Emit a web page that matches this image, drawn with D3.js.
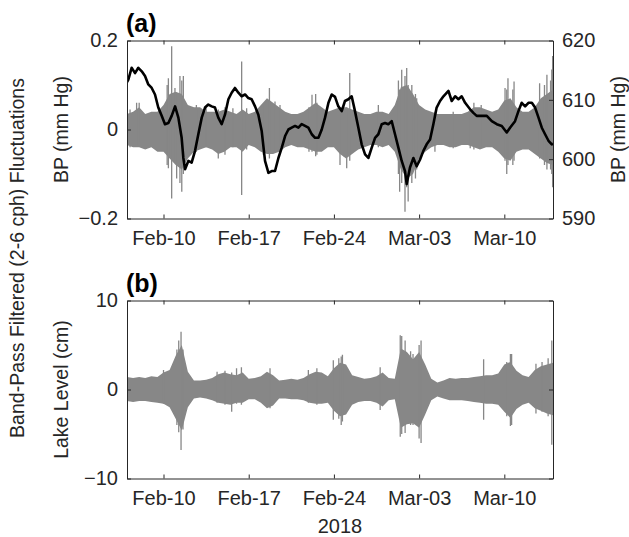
<!DOCTYPE html>
<html>
<head>
<meta charset="utf-8">
<script src="https://cdn.jsdelivr.net/npm/d3@7"></script>
<style>
  html, body { margin: 0; padding: 0; background: #fff; }
  svg { display: block; font-family: "Liberation Sans", Arial, Helvetica, sans-serif; }
</style>
</head>
<body>
<svg id="chart" width="629" height="537"></svg>
<script>
// ---- time axis ----
const startDate = Date.UTC(2018, 1, 7);           // Feb 7, 2018 (day 0)
const endDay = 35;                                 // Mar 14, 2018
const tickDates = ["2018-02-10", "2018-02-17", "2018-02-24", "2018-03-03", "2018-03-10"];

// ---- barometric pressure (mm Hg), days since Feb 7 ----
const bpDay = [0.0,0.11,0.38,0.66,0.93,1.21,1.48,1.75,2.03,2.30,2.57,2.85,3.12,3.40,3.67,3.95,4.22,4.49,4.63,4.77,
  5.04,5.31,5.59,5.86,6.14,6.41,6.68,6.96,7.23,7.50,7.78,8.05,8.33,8.60,8.87,9.15,9.42,9.70,9.97,10.24,
  10.52,10.79,11.07,11.34,11.62,11.89,12.16,12.44,12.71,12.99,13.26,13.53,13.81,14.08,14.35,14.63,14.90,15.18,15.45,15.73,
  16.00,16.27,16.55,16.82,17.09,17.36,17.64,17.91,18.19,18.46,18.73,19.01,19.28,19.56,19.83,20.10,20.38,20.65,20.93,21.20,
  21.47,21.75,22.02,22.30,22.57,22.84,22.98,23.25,23.53,23.80,24.07,24.35,24.62,24.90,25.17,25.44,25.72,26.00,26.41,26.68,
  26.96,27.23,27.50,27.78,28.19,28.46,28.73,29.14,29.56,29.97,30.38,30.79,31.20,31.47,31.88,32.16,32.43,32.71,32.98,33.26,
  33.53,33.81,34.08,34.35,34.63,34.90,35.0];
const bpValue = [613.0,613.4,615.4,614.5,615.4,614.8,614.0,612.6,612.0,610.9,608.7,607.3,605.9,606.1,607.3,608.9,607.0,603.6,600.2,598.3,
  599.7,599.4,601.4,604.2,607.0,608.7,609.2,608.9,608.7,607.0,605.9,607.5,610.1,611.2,612.0,611.2,610.6,610.9,610.3,610.1,
  608.9,607.5,604.7,599.7,597.7,598.0,598.0,600.2,601.9,603.9,605.0,605.3,605.6,605.3,605.9,605.6,605.3,604.2,603.6,603.6,
  605.0,607.0,609.5,610.9,610.5,608.9,608.1,609.8,610.1,610.6,608.1,605.3,602.5,600.8,600.2,601.9,603.6,604.2,605.9,606.1,
  605.9,606.4,604.2,601.9,599.7,598.0,595.8,598.6,600.2,598.8,599.9,601.4,602.5,603.3,605.9,608.7,609.8,610.6,611.5,609.8,
  610.6,610.1,610.6,609.5,608.4,607.8,607.3,607.3,607.3,606.4,605.9,605.6,604.5,605.3,606.4,608.1,609.5,608.9,609.5,609.5,
  608.7,607.0,605.3,604.2,603.1,602.5,602.6];

// ---- band-pass filtered fluctuations: envelope every half day ----
const envDay = d3.range(0, 35.01, 0.5);
const bpfHigh = [.035,.04,.05,.035,.04,.04,.055,.08,.085,.08,.055,.05,.05,.04,.04,.04,.045,.04,.035,.045,
  .035,.04,.055,.07,.06,.05,.04,.035,.035,.04,.05,.06,.05,.04,.045,.05,.05,.045,.04,.035,
  .035,.04,.04,.035,.055,.095,.1,.08,.055,.045,.04,.035,.035,.035,.035,.035,.04,.05,.05,.045,
  .04,.045,.065,.07,.05,.04,.04,.05,.07,.08,.09];
const bpfLow = [-.035,-.04,-.04,-.045,-.04,-.05,-.05,-.065,-.08,-.09,-.065,-.05,-.045,-.04,-.045,-.055,-.05,-.04,-.04,-.05,
  -.035,-.04,-.05,-.055,-.055,-.05,-.04,-.035,-.04,-.04,-.045,-.05,-.05,-.04,-.04,-.055,-.065,-.055,-.045,-.04,
  -.035,-.035,-.04,-.035,-.05,-.09,-.11,-.1,-.065,-.05,-.04,-.035,-.035,-.04,-.04,-.035,-.035,-.04,-.045,-.04,
  -.04,-.05,-.065,-.07,-.05,-.045,-.045,-.055,-.065,-.075,-.08];
const lakeHigh = [1.4,1.3,1.4,1.3,1.5,1.4,1.9,2.2,3.8,5.0,2.0,1.0,1.0,1.1,1.3,1.7,1.9,1.7,1.6,1.9,
  1.2,1.3,1.5,2.0,1.6,1.0,1.1,1.2,1.1,1.3,1.7,2.0,1.9,1.5,2.4,3.0,2.8,1.6,1.4,1.2,
  1.3,1.5,1.9,1.3,1.2,4.6,4.2,3.4,4.2,2.8,1.2,0.8,1.0,1.3,1.2,1.3,1.3,1.4,1.5,1.6,
  1.6,1.8,2.8,3.1,2.1,1.6,1.4,2.2,2.6,2.8,3.0];
const lakeLow = [-1.3,-1.4,-1.3,-1.3,-1.4,-1.5,-1.6,-2.0,-3.3,-4.6,-2.0,-1.0,-0.9,-1.0,-1.2,-1.5,-1.6,-1.7,-1.5,-1.5,
  -1.1,-1.1,-1.5,-2.1,-1.8,-1.0,-1.0,-1.1,-1.1,-1.2,-1.5,-1.6,-1.6,-1.5,-2.4,-3.0,-2.8,-1.7,-1.4,-1.3,
  -1.3,-1.5,-1.9,-1.2,-1.1,-4.3,-3.9,-3.8,-4.3,-2.8,-1.2,-0.8,-1.0,-1.2,-1.2,-1.2,-1.3,-1.4,-1.5,-1.6,
  -1.6,-1.7,-2.5,-3.2,-2.2,-1.7,-1.5,-2.1,-2.4,-2.7,-2.9];

// ---- individual large excursions: [day, high, low] ----
const bpfSpikes = [[0.25,.045,-.04],[0.79,.06,-.035],[1.0,.06,-.03],[3.3,.1,-.08],[3.4,.115,-.087],[3.67,.187,-.155],
  [3.94,.093,-.07],[4.08,.08,-.11],[4.35,.12,-.12],[4.5,.11,-.14],[4.63,.12,-.1],[5.7,.055,-.05],[6.5,.05,-.04],
  [7.5,.045,-.065],[8.05,.05,-.057],[8.7,.048,-.04],[9.42,.153,-.147],[9.83,.048,-.045],[11.2,.055,-.057],
  [11.7,.093,-.065],[12.16,.063,-.05],[12.57,.055,-.055],[14.95,.05,-.05],[15.2,.078,-.05],[15.5,.08,-.06],
  [15.6,.06,-.057],[17.5,.05,-.08],[17.8,.055,-.06],[18.05,.05,-.087],[18.3,.127,-.07],[20.65,.055,-.04],
  [22.3,.11,-.1],[22.4,.09,-.14],[22.57,.134,-.12],[22.84,.12,-.185],[22.98,.138,-.13],[23.1,.1,-.162],
  [23.4,.1,-.12],[23.7,.08,-.11],[23.8,.07,-.09],[25.3,.04,-.05],[26.8,.04,-.042],[28.2,.045,-.042],
  [28.5,.06,-.045],[29.1,.055,-.04],[31.06,.093,-.07],[31.2,.09,-.1],[31.3,.115,-.08],[31.7,.09,-.08],
  [31.8,.108,-.07],[33.9,.104,-.065],[34.3,.1,-.08],[34.5,.123,-.09],[34.8,.11,-.09],[34.9,.135,-.1],[34.97,.165,-.13]];
const lakeSpikes = [[3.0,2.2,-1.6],[4.1,4.5,-4.0],[4.25,5.5,-4.8],[4.44,6.5,-6.8],[4.6,4.5,-4.5],[7.4,2.0,-1.5],
  [8.05,2.1,-1.7],[8.6,1.9,-2.5],[9.0,2.4,-1.6],[9.4,2.5,-1.7],[11.75,2.4,-2.1],[14.9,2.2,-1.5],[15.6,2.4,-1.7],
  [16.95,3.3,-3.4],[17.4,3.5,-3.3],[17.6,3.7,-4.0],[17.7,3.9,-3.6],[20.8,2.5,-2.3],[22.45,6.1,-5.3],[22.57,6.0,-5.0],
  [22.85,5.5,-4.9],[23.3,4.3,-4.0],[23.5,4.0,-4.0],[24.0,5.0,-5.5],[24.16,5.5,-6.0],[29.3,3.4,-3.4],[31.2,3.1,-3.0],
  [31.5,4.0,-4.1],[31.6,4.0,-4.0],[33.6,2.9,-2.7],[34.1,3.1,-2.5],[34.6,3.5,-3.0],[34.9,5.5,-6.2]];

// ---- axis ticks ----
const bpfTicks = [-0.2, 0, 0.2];
const bpTicks = [590, 600, 610, 620];
const lakeTicks = [-10, 0, 10];

// ---------------------------------------------------------------
const svg = d3.select("#chart");
const left = 127, right = 553;
const panelA = { top: 40.5, bottom: 218.5 };
const panelB = { top: 300.5, bottom: 478.5 };
const textColor = "#262626";
const gray = "#878787";
const dayToDate = d => new Date(startDate + d * 864e5);

const x = d3.scaleUtc().domain([dayToDate(0), dayToDate(endDay)]).range([left, right]);
const yA = d3.scaleLinear().domain([-0.2, 0.2]).range([panelA.bottom, panelA.top]);
const yA2 = d3.scaleLinear().domain([590, 620]).range([panelA.bottom, panelA.top]);
const yB = d3.scaleLinear().domain([-10, 10]).range([panelB.bottom, panelB.top]);
const ticks = tickDates.map(s => new Date(s + "T00:00:00Z"));
const fmt = d3.utcFormat("%b-%d");

function clip(id, p) {
  svg.append("clipPath").attr("id", id).append("rect")
    .attr("x", left).attr("y", p.top).attr("width", right - left).attr("height", p.bottom - p.top);
}
clip("clipA", panelA);
clip("clipB", panelB);

function drawSignal(g, y, lo, hi, spikes) {
  const area = d3.area()
    .x((d, i) => x(dayToDate(envDay[i])))
    .y0((d, i) => y(lo[i]))
    .y1((d, i) => y(hi[i]));
  g.append("path").datum(hi).attr("d", area).attr("fill", gray);
  g.selectAll("line.spike").data(spikes).enter().append("line")
    .attr("class", "spike")
    .attr("x1", d => x(dayToDate(d[0]))).attr("x2", d => x(dayToDate(d[0])))
    .attr("y1", d => y(d[1])).attr("y2", d => y(d[2]))
    .attr("stroke", gray).attr("stroke-width", 1.3);
}

// panel (a)
const gA = svg.append("g").attr("clip-path", "url(#clipA)");
drawSignal(gA, yA, bpfLow, bpfHigh, bpfSpikes);
const bpLine = d3.line().x((d, i) => x(dayToDate(bpDay[i]))).y(d => yA2(d));
gA.append("path").datum(bpValue).attr("d", bpLine)
  .attr("fill", "none").attr("stroke", "#000").attr("stroke-width", 2.6).attr("stroke-linejoin", "round");

// panel (b)
const gB = svg.append("g").attr("clip-path", "url(#clipB)");
drawSignal(gB, yB, lakeLow, lakeHigh, lakeSpikes);

// boxed axes with inward ticks
function frame(p, yLeft, leftTicks, yRight, rightTicks) {
  const g = svg.append("g");
  const bx = d3.axisBottom(x).tickValues(ticks).tickFormat(fmt).tickSizeInner(-4).tickSizeOuter(0).tickPadding(12);
  const ax = g.append("g").attr("transform", `translate(0,${p.bottom})`).call(bx);
  const tx = d3.axisTop(x).tickValues(ticks).tickFormat("").tickSizeInner(-4).tickSizeOuter(0);
  const at = g.append("g").attr("transform", `translate(0,${p.top})`).call(tx);
  const ly = d3.axisLeft(yLeft).tickValues(leftTicks).tickFormat(d3.format("")).tickSizeInner(-4).tickSizeOuter(0).tickPadding(9);
  const al = g.append("g").attr("transform", `translate(${left},0)`).call(ly);
  const ry = d3.axisRight(yRight || yLeft).tickValues(rightTicks || leftTicks)
    .tickFormat(yRight ? d3.format("") : "").tickSizeInner(-4).tickSizeOuter(0).tickPadding(9);
  const ar = g.append("g").attr("transform", `translate(${right},0)`).call(ry);
  [ax, at, al, ar].forEach(a => {
    a.select(".domain").attr("stroke", textColor).attr("stroke-width", 1);
    a.selectAll(".tick line").attr("stroke", textColor);
    a.selectAll("text").attr("fill", textColor).attr("font-size", 20).attr("font-family", "Liberation Sans, Arial, sans-serif");
  });
}
frame(panelA, yA, bpfTicks, yA2, bpTicks);
frame(panelB, yB, lakeTicks, null, null);

// labels
const label = (txt, xx, yy, rot, opts = {}) => {
  return svg.append("text").text(txt)
    .attr("transform", `translate(${xx},${yy}) rotate(${rot})`)
    .attr("text-anchor", opts.anchor || "middle")
    .attr("font-size", opts.size || 19.5)
    .attr("font-weight", opts.weight || "normal")
    .attr("fill", opts.color || textColor);
};
label("(a)", 126, 32, 0, { anchor: "start", size: 25, weight: "bold", color: "#000" });
label("(b)", 126, 292, 0, { anchor: "start", size: 25, weight: "bold", color: "#000" });
label("BP (mm Hg)", 68, (panelA.top + panelA.bottom) / 2, -90);
label("BP (mm Hg)", 625, (panelA.top + panelA.bottom) / 2, -90);
label("Lake Level (cm)", 68, (panelB.top + panelB.bottom) / 2, -90);
label("Band-Pass Filtered (2-6 cph) Fluctuations", 24, 258, -90);
label("2018", (left + right) / 2, 533, 0, { size: 20 });
</script>
</body>
</html>
